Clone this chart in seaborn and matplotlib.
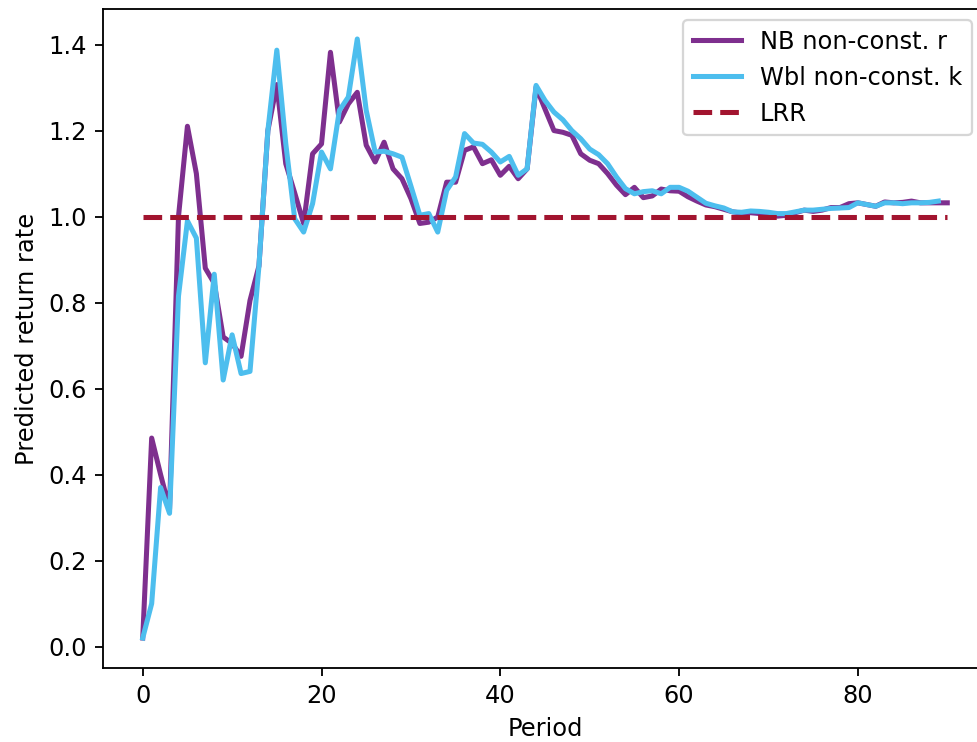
import matplotlib
matplotlib.use("Agg")
import matplotlib.pyplot as plt
import seaborn as sns
import pandas as pd

# ---- data ----
nb_periods = list(range(0, 91))
nb_values = [
    0.02, 0.485, 0.40, 0.32, 1.00, 1.21, 1.10, 0.88, 0.845, 0.72,
    0.705, 0.675, 0.805, 0.885, 1.20, 1.307, 1.123, 1.055, 0.984, 1.146,
    1.169, 1.382, 1.22, 1.262, 1.289, 1.166, 1.127, 1.173, 1.111, 1.088,
    1.042, 0.984, 0.987, 0.999, 1.08, 1.08, 1.154, 1.162, 1.123, 1.132,
    1.096, 1.117, 1.088, 1.111, 1.301, 1.25, 1.20, 1.196, 1.189, 1.146,
    1.131, 1.123, 1.10, 1.073, 1.051, 1.068, 1.044, 1.048, 1.064, 1.06,
    1.059, 1.046, 1.036, 1.027, 1.023, 1.017, 1.011, 1.008, 1.009, 1.007,
    1.005, 1.001, 1.003, 1.009, 1.015, 1.012, 1.015, 1.021, 1.021, 1.030,
    1.032, 1.028, 1.024, 1.034, 1.032, 1.033, 1.036, 1.032, 1.032, 1.032,
    1.032,
]
wbl_periods = list(range(0, 90))
wbl_values = [
    0.02, 0.10, 0.37, 0.31, 0.815, 0.99, 0.95, 0.66, 0.866, 0.62,
    0.725, 0.635, 0.64, 0.885, 1.20, 1.387, 1.17, 0.995, 0.964, 1.03,
    1.15, 1.111, 1.247, 1.278, 1.413, 1.247, 1.15, 1.152, 1.146, 1.138,
    1.071, 1.003, 1.007, 0.964, 1.061, 1.092, 1.193, 1.171, 1.168, 1.15,
    1.127, 1.14, 1.096, 1.111, 1.305, 1.27, 1.243, 1.225, 1.20, 1.181,
    1.157, 1.144, 1.123, 1.092, 1.065, 1.053, 1.058, 1.06, 1.053, 1.068,
    1.068, 1.059, 1.045, 1.031, 1.025, 1.02, 1.011, 1.01, 1.013, 1.012,
    1.01, 1.007, 1.007, 1.011, 1.015, 1.015, 1.017, 1.019, 1.020, 1.021,
    1.032, 1.028, 1.024, 1.032, 1.032, 1.030, 1.032, 1.032, 1.033, 1.036,
]
lrr_periods = [0, 90]
lrr_values = [1.0, 1.0]

series_labels = ["NB non-const. r", "Wbl non-const. k", "LRR"]
colors = ["#7E2F8E", "#4DBEEE", "#A2142F"]

plt.rcParams["font.size"] = 10.5

DPI = 165
fig = plt.figure(figsize=(977 / DPI, 742 / DPI), dpi=DPI)
# the reference crops the axes on the right side
ax = fig.add_axes([102.5 / 977, 74 / 742, 885 / 977, 659 / 742])

df_nb = pd.DataFrame({"Period": nb_periods, "rate": nb_values})
df_wbl = pd.DataFrame({"Period": wbl_periods, "rate": wbl_values})
df_lrr = pd.DataFrame({"Period": lrr_periods, "rate": lrr_values})

sns.lineplot(data=df_nb, x="Period", y="rate", ax=ax, color=colors[0],
             linewidth=2.2, label=series_labels[0])
sns.lineplot(data=df_wbl, x="Period", y="rate", ax=ax, color=colors[1],
             linewidth=2.2, label=series_labels[1])
sns.lineplot(data=df_lrr, x="Period", y="rate", ax=ax, color=colors[2],
             linewidth=2.2, linestyle="--", label=series_labels[2])

ax.set_xlim(-4.5, 94.5)
ax.set_ylim(-0.0497, 1.4827)
ax.set_xticks([0, 20, 40, 60, 80])
ax.set_yticks([0.0, 0.2, 0.4, 0.6, 0.8, 1.0, 1.2, 1.4])
ax.set_xlabel("Period")
ax.set_ylabel("Predicted return rate")
ax.spines["right"].set_visible(False)
ax.legend(loc="upper right", bbox_to_anchor=(972 / 977, 1 - 20 / 742),
          bbox_transform=fig.transFigure, borderaxespad=0.0)

fig.savefig("out.png", dpi=DPI)
